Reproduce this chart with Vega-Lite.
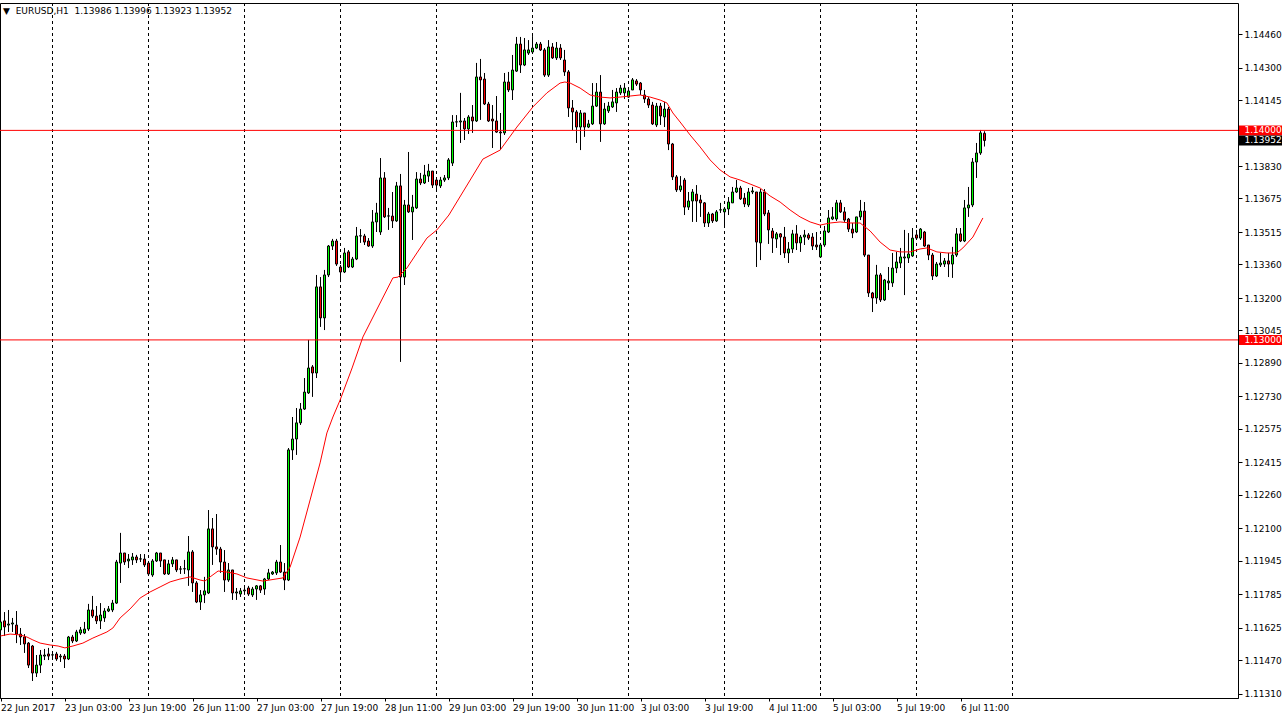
{
"$schema": "https://vega.github.io/schema/vega-lite/v6.json",
"width": 1238, "height": 695,
"autosize": "none",
"padding": {"left": 0, "top": 3, "right": 46, "bottom": 22},
"background": "white",
"title": {"text": "▼\u00a0\u00a0EURUSD,H1\u00a0\u00a01.13986 1.13996 1.13923 1.13952", "anchor": "start", "orient": "top", "frame": "group", "offset": -13, "dx": 3, "fontSize": 9, "font": "DejaVu Sans", "fontWeight": "normal", "color": "#000"},
"config": {
  "view": {"stroke": "#000", "strokeWidth": 1},
  "axis": {"labelFont": "DejaVu Sans", "labelFontSize": 9, "labelColor": "#000", "tickColor": "#000", "domainColor": "#000", "grid": false, "labelOverlap": false, "labelBound": false},
  "axisY": {"labelOverlap": false},
  "axisQuantitative": {"labelOverlap": false},
  "scale": {"continuousPadding": 0}
},
"datasets": {
"days": [{"k":13},{"k":37},{"k":61},{"k":85},{"k":109},{"k":133},{"k":157},{"k":181},{"k":205},{"k":229},{"k":253}],
"hlines": [{"price":1.14},{"price":1.13}],
"tags": [{"price":1.14,"label":"1.14000","bg":"#ff0000"},{"price":1.13,"label":"1.13000","bg":"#ff0000"},{"price":1.13952,"label":"1.13952","bg":"#000000"}],
"ma": [
{"k":0,"ma":1.11587},{"k":2.4,"ma":1.11596},{"k":4.9,"ma":1.11592},{"k":6.6,"ma":1.11582},{"k":8.1,"ma":1.11568},{"k":9.9,"ma":1.11553},{"k":12.4,"ma":1.11544},{"k":14.4,"ma":1.11539},{"k":16.1,"ma":1.1153},{"k":18.1,"ma":1.11539},{"k":20.6,"ma":1.11553},{"k":23.1,"ma":1.11577},{"k":24.9,"ma":1.11592},{"k":26.6,"ma":1.11606},{"k":28.1,"ma":1.11625},{"k":29.9,"ma":1.11673},{"k":32.4,"ma":1.11716},{"k":34.9,"ma":1.11768},{"k":37.4,"ma":1.11797},{"k":39.9,"ma":1.11821},{"k":42.4,"ma":1.11845},{"k":44.9,"ma":1.11859},{"k":47.4,"ma":1.11869},{"k":49.9,"ma":1.11854},{"k":51.1,"ma":1.11849},{"k":52.4,"ma":1.11869},{"k":54.4,"ma":1.11897},{"k":56.6,"ma":1.11892},{"k":59.1,"ma":1.11883},{"k":61.6,"ma":1.11864},{"k":65.6,"ma":1.11849},{"k":70.6,"ma":1.11864},{"k":72.4,"ma":1.11916},{"k":74.9,"ma":1.12059},{"k":77.4,"ma":1.12236},{"k":79.9,"ma":1.12413},{"k":81.6,"ma":1.12556},{"k":83.1,"ma":1.12632},{"k":84.9,"ma":1.12713},{"k":87.9,"ma":1.12866},{"k":90.6,"ma":1.13014},{"k":94.9,"ma":1.13176},{"k":98.1,"ma":1.13296},{"k":99.4,"ma":1.133},{"k":101.6,"ma":1.13343},{"k":104.1,"ma":1.13415},{"k":106.6,"ma":1.13486},{"k":109.1,"ma":1.13525},{"k":112.1,"ma":1.13596},{"k":120.6,"ma":1.13863},{"k":124.9,"ma":1.13906},{"k":129.1,"ma":1.14016},{"k":133.1,"ma":1.14112},{"k":136.6,"ma":1.14179},{"k":139.9,"ma":1.14226},{"k":141.1,"ma":1.14231},{"k":142.4,"ma":1.14226},{"k":144.9,"ma":1.14202},{"k":147.4,"ma":1.14169},{"k":149.9,"ma":1.14159},{"k":152.4,"ma":1.14155},{"k":154.9,"ma":1.14159},{"k":157.4,"ma":1.14164},{"k":159.9,"ma":1.14169},{"k":162.4,"ma":1.14159},{"k":164.9,"ma":1.14145},{"k":166.6,"ma":1.14131},{"k":168.1,"ma":1.14083},{"k":169.9,"ma":1.1404},{"k":172.4,"ma":1.13978},{"k":174.9,"ma":1.13921},{"k":177.4,"ma":1.13859},{"k":179.9,"ma":1.13811},{"k":182.4,"ma":1.13778},{"k":184.9,"ma":1.13763},{"k":187.4,"ma":1.13744},{"k":189.9,"ma":1.13725},{"k":192.4,"ma":1.13687},{"k":194.9,"ma":1.13658},{"k":197.4,"ma":1.1362},{"k":199.9,"ma":1.13587},{"k":202.4,"ma":1.13563},{"k":204.9,"ma":1.13548},{"k":207.4,"ma":1.13558},{"k":209.9,"ma":1.13563},{"k":212.4,"ma":1.13558},{"k":214.9,"ma":1.13558},{"k":217.4,"ma":1.1352},{"k":219.9,"ma":1.13467},{"k":222.4,"ma":1.13429},{"k":224.9,"ma":1.1342},{"k":227.4,"ma":1.1342},{"k":229.9,"ma":1.13434},{"k":231.6,"ma":1.13439},{"k":234.1,"ma":1.1342},{"k":236.6,"ma":1.13415},{"k":239.1,"ma":1.13415},{"k":240.6,"ma":1.13439},{"k":243.1,"ma":1.13491},{"k":245.6,"ma":1.13582}
],
"candles": [
{"k":0,"o":1.11616,"h":1.11725,"l":1.11587,"c":1.11654},
{"k":1,"o":1.11659,"h":1.11701,"l":1.11587,"c":1.1163},
{"k":2,"o":1.11639,"h":1.11711,"l":1.11606,"c":1.11644},
{"k":3,"o":1.11644,"h":1.11673,"l":1.11606,"c":1.11649},
{"k":4,"o":1.11639,"h":1.11706,"l":1.11553,"c":1.11596},
{"k":5,"o":1.11596,"h":1.11625,"l":1.11544,"c":1.11582},
{"k":6,"o":1.11582,"h":1.11596,"l":1.11506,"c":1.11549},
{"k":7,"o":1.11553,"h":1.11558,"l":1.11434,"c":1.11448},
{"k":8,"o":1.11539,"h":1.11544,"l":1.11372,"c":1.1141},
{"k":9,"o":1.1141,"h":1.11496,"l":1.11391,"c":1.11448},
{"k":10,"o":1.11448,"h":1.1152,"l":1.1141,"c":1.11496},
{"k":11,"o":1.11491,"h":1.11525,"l":1.11472,"c":1.11496},
{"k":12,"o":1.11501,"h":1.1153,"l":1.11472,"c":1.11491},
{"k":13,"o":1.11496,"h":1.11515,"l":1.11482,"c":1.11497},
{"k":14,"o":1.11501,"h":1.11511,"l":1.11468,"c":1.11477},
{"k":15,"o":1.11487,"h":1.11501,"l":1.11463,"c":1.11491},
{"k":16,"o":1.11491,"h":1.11501,"l":1.11434,"c":1.11477},
{"k":17,"o":1.11477,"h":1.11587,"l":1.11472,"c":1.11582},
{"k":18,"o":1.11582,"h":1.11592,"l":1.11553,"c":1.11563},
{"k":19,"o":1.11563,"h":1.11616,"l":1.11558,"c":1.11606},
{"k":20,"o":1.11601,"h":1.1163,"l":1.11592,"c":1.11616},
{"k":21,"o":1.11601,"h":1.11654,"l":1.11596,"c":1.1162},
{"k":22,"o":1.1162,"h":1.1174,"l":1.11611,"c":1.11711},
{"k":23,"o":1.11711,"h":1.11778,"l":1.11673,"c":1.11682},
{"k":24,"o":1.11682,"h":1.1173,"l":1.11644,"c":1.11659},
{"k":25,"o":1.11659,"h":1.11744,"l":1.1162,"c":1.11687},
{"k":26,"o":1.11673,"h":1.1172,"l":1.11654,"c":1.11706},
{"k":27,"o":1.11706,"h":1.1173,"l":1.11701,"c":1.11716},
{"k":28,"o":1.11711,"h":1.11759,"l":1.11701,"c":1.11744},
{"k":29,"o":1.11744,"h":1.1195,"l":1.1174,"c":1.1194},
{"k":30,"o":1.11935,"h":1.12079,"l":1.1184,"c":1.11983},
{"k":31,"o":1.11983,"h":1.11983,"l":1.11926,"c":1.1194},
{"k":32,"o":1.11945,"h":1.11978,"l":1.11911,"c":1.11954},
{"k":33,"o":1.1195,"h":1.11983,"l":1.11926,"c":1.11964},
{"k":34,"o":1.11964,"h":1.11974,"l":1.11935,"c":1.1195},
{"k":35,"o":1.11954,"h":1.11978,"l":1.1194,"c":1.11955},
{"k":36,"o":1.11954,"h":1.11978,"l":1.11916,"c":1.11926},
{"k":37,"o":1.11935,"h":1.11945,"l":1.11873,"c":1.11883},
{"k":38,"o":1.11878,"h":1.11954,"l":1.11869,"c":1.11945},
{"k":39,"o":1.11945,"h":1.11988,"l":1.1194,"c":1.11983},
{"k":40,"o":1.11983,"h":1.11983,"l":1.11916,"c":1.11945},
{"k":41,"o":1.1195,"h":1.1195,"l":1.11878,"c":1.11883},
{"k":42,"o":1.11883,"h":1.1195,"l":1.11878,"c":1.11931},
{"k":43,"o":1.11931,"h":1.11964,"l":1.11916,"c":1.1195},
{"k":44,"o":1.1195,"h":1.1195,"l":1.11892,"c":1.11902},
{"k":45,"o":1.11907,"h":1.11921,"l":1.11883,"c":1.11906},
{"k":46,"o":1.11907,"h":1.1195,"l":1.11883,"c":1.11908},
{"k":47,"o":1.11902,"h":1.12064,"l":1.11826,"c":1.11988},
{"k":48,"o":1.11988,"h":1.11997,"l":1.11797,"c":1.1184},
{"k":49,"o":1.1184,"h":1.11849,"l":1.11744,"c":1.11749},
{"k":50,"o":1.11749,"h":1.11806,"l":1.11711,"c":1.11783},
{"k":51,"o":1.11783,"h":1.11869,"l":1.11744,"c":1.11802},
{"k":52,"o":1.11792,"h":1.12188,"l":1.11787,"c":1.12098},
{"k":53,"o":1.12098,"h":1.1215,"l":1.11926,"c":1.12012},
{"k":54,"o":1.12012,"h":1.12169,"l":1.11974,"c":1.12002},
{"k":55,"o":1.12002,"h":1.12012,"l":1.11888,"c":1.1194},
{"k":56,"o":1.1194,"h":1.11997,"l":1.11797,"c":1.11854},
{"k":57,"o":1.11854,"h":1.11935,"l":1.11845,"c":1.11902},
{"k":58,"o":1.11902,"h":1.11902,"l":1.11759,"c":1.11792},
{"k":59,"o":1.11792,"h":1.11816,"l":1.11759,"c":1.11797},
{"k":60,"o":1.11787,"h":1.11816,"l":1.11773,"c":1.11802},
{"k":61,"o":1.11802,"h":1.1183,"l":1.11783,"c":1.11806},
{"k":62,"o":1.11816,"h":1.11826,"l":1.11778,"c":1.11787},
{"k":63,"o":1.11783,"h":1.11821,"l":1.11773,"c":1.11811},
{"k":64,"o":1.11811,"h":1.1183,"l":1.11759,"c":1.11826},
{"k":65,"o":1.11826,"h":1.1183,"l":1.11792,"c":1.11806},
{"k":66,"o":1.11811,"h":1.11864,"l":1.11783,"c":1.11859},
{"k":67,"o":1.11859,"h":1.11907,"l":1.11854,"c":1.11888},
{"k":68,"o":1.11883,"h":1.11897,"l":1.11878,"c":1.11892},
{"k":69,"o":1.11888,"h":1.1195,"l":1.11878,"c":1.1194},
{"k":70,"o":1.1194,"h":1.12021,"l":1.11888,"c":1.11892},
{"k":71,"o":1.11892,"h":1.11935,"l":1.11806,"c":1.11854},
{"k":72,"o":1.11854,"h":1.12484,"l":1.11849,"c":1.12475},
{"k":73,"o":1.12475,"h":1.12632,"l":1.12427,"c":1.12527},
{"k":74,"o":1.12527,"h":1.12675,"l":1.12451,"c":1.12604},
{"k":75,"o":1.12604,"h":1.12699,"l":1.12594,"c":1.1267},
{"k":76,"o":1.1267,"h":1.12818,"l":1.12666,"c":1.12751},
{"k":77,"o":1.12747,"h":1.13,"l":1.12742,"c":1.12866},
{"k":78,"o":1.12871,"h":1.1288,"l":1.12728,"c":1.12842},
{"k":79,"o":1.12842,"h":1.1331,"l":1.12818,"c":1.13253},
{"k":80,"o":1.13253,"h":1.133,"l":1.13062,"c":1.13105},
{"k":81,"o":1.13105,"h":1.13334,"l":1.13047,"c":1.1331},
{"k":82,"o":1.1331,"h":1.13453,"l":1.133,"c":1.13448},
{"k":83,"o":1.13448,"h":1.13482,"l":1.13429,"c":1.13472},
{"k":84,"o":1.13472,"h":1.13482,"l":1.13353,"c":1.13362},
{"k":85,"o":1.13348,"h":1.13358,"l":1.13276,"c":1.13324},
{"k":86,"o":1.13324,"h":1.13439,"l":1.13319,"c":1.13415},
{"k":87,"o":1.1342,"h":1.13429,"l":1.13343,"c":1.13348},
{"k":88,"o":1.13348,"h":1.13396,"l":1.13343,"c":1.13386},
{"k":89,"o":1.13386,"h":1.13539,"l":1.13381,"c":1.13496},
{"k":90,"o":1.13496,"h":1.13529,"l":1.13463,"c":1.13497},
{"k":91,"o":1.13496,"h":1.13506,"l":1.13453,"c":1.13467},
{"k":92,"o":1.13472,"h":1.13486,"l":1.13444,"c":1.13448},
{"k":93,"o":1.13448,"h":1.1362,"l":1.13439,"c":1.13563},
{"k":94,"o":1.13563,"h":1.13654,"l":1.13515,"c":1.13606},
{"k":95,"o":1.13515,"h":1.13868,"l":1.13501,"c":1.13773},
{"k":96,"o":1.13773,"h":1.13801,"l":1.13582,"c":1.13587},
{"k":97,"o":1.13591,"h":1.1363,"l":1.13525,"c":1.13592},
{"k":98,"o":1.13591,"h":1.13706,"l":1.13534,"c":1.13568},
{"k":99,"o":1.13568,"h":1.13754,"l":1.13563,"c":1.13735},
{"k":100,"o":1.13735,"h":1.13792,"l":1.12895,"c":1.133},
{"k":101,"o":1.133,"h":1.13668,"l":1.13262,"c":1.13644},
{"k":102,"o":1.13644,"h":1.13897,"l":1.13606,"c":1.13611},
{"k":103,"o":1.13611,"h":1.13692,"l":1.13477,"c":1.13634},
{"k":104,"o":1.1363,"h":1.13801,"l":1.13625,"c":1.13768},
{"k":105,"o":1.13768,"h":1.13797,"l":1.13739,"c":1.13749},
{"k":106,"o":1.13749,"h":1.13835,"l":1.13744,"c":1.13787},
{"k":107,"o":1.13782,"h":1.1384,"l":1.13754,"c":1.13806},
{"k":108,"o":1.13806,"h":1.13806,"l":1.13725,"c":1.13739},
{"k":109,"o":1.13763,"h":1.13773,"l":1.13706,"c":1.13739},
{"k":110,"o":1.13735,"h":1.13778,"l":1.13725,"c":1.13763},
{"k":111,"o":1.13763,"h":1.13787,"l":1.13754,"c":1.13773},
{"k":112,"o":1.13773,"h":1.13868,"l":1.13763,"c":1.13859},
{"k":113,"o":1.13844,"h":1.14073,"l":1.1383,"c":1.1404},
{"k":114,"o":1.1404,"h":1.14073,"l":1.14016,"c":1.14041},
{"k":115,"o":1.1404,"h":1.14179,"l":1.1394,"c":1.14045},
{"k":116,"o":1.14045,"h":1.14059,"l":1.13954,"c":1.14007},
{"k":117,"o":1.14007,"h":1.14073,"l":1.13983,"c":1.14064},
{"k":118,"o":1.14064,"h":1.14121,"l":1.13988,"c":1.14045},
{"k":119,"o":1.14045,"h":1.14322,"l":1.1404,"c":1.14255},
{"k":120,"o":1.14255,"h":1.14341,"l":1.1405,"c":1.14241},
{"k":121,"o":1.14245,"h":1.14274,"l":1.14121,"c":1.14126},
{"k":122,"o":1.14126,"h":1.14136,"l":1.1404,"c":1.14045},
{"k":123,"o":1.14054,"h":1.14121,"l":1.13916,"c":1.14045},
{"k":124,"o":1.14045,"h":1.14164,"l":1.13988,"c":1.13992},
{"k":125,"o":1.13992,"h":1.14083,"l":1.13906,"c":1.13988},
{"k":126,"o":1.13988,"h":1.14274,"l":1.13978,"c":1.14231},
{"k":127,"o":1.14231,"h":1.14279,"l":1.14183,"c":1.14193},
{"k":128,"o":1.14193,"h":1.1436,"l":1.14145,"c":1.14288},
{"k":129,"o":1.14283,"h":1.14446,"l":1.14279,"c":1.14412},
{"k":130,"o":1.14412,"h":1.14446,"l":1.14274,"c":1.14312},
{"k":131,"o":1.14312,"h":1.14441,"l":1.14307,"c":1.14384},
{"k":132,"o":1.14369,"h":1.14431,"l":1.1436,"c":1.14384},
{"k":133,"o":1.14374,"h":1.1445,"l":1.14369,"c":1.14393},
{"k":134,"o":1.14393,"h":1.14422,"l":1.14388,"c":1.14412},
{"k":135,"o":1.14412,"h":1.14422,"l":1.14379,"c":1.14384},
{"k":136,"o":1.14384,"h":1.14393,"l":1.14255,"c":1.14264},
{"k":137,"o":1.14264,"h":1.14431,"l":1.14255,"c":1.14398},
{"k":138,"o":1.14398,"h":1.14417,"l":1.14341,"c":1.14346},
{"k":139,"o":1.14346,"h":1.14422,"l":1.14336,"c":1.14393},
{"k":140,"o":1.14393,"h":1.14412,"l":1.14336,"c":1.14346},
{"k":141,"o":1.14336,"h":1.14384,"l":1.1426,"c":1.14279},
{"k":142,"o":1.14279,"h":1.14288,"l":1.14064,"c":1.14107},
{"k":143,"o":1.14107,"h":1.14145,"l":1.14002,"c":1.14088},
{"k":144,"o":1.14088,"h":1.14097,"l":1.1394,"c":1.14016},
{"k":145,"o":1.14016,"h":1.14097,"l":1.13906,"c":1.14083},
{"k":146,"o":1.14083,"h":1.14083,"l":1.13969,"c":1.14016},
{"k":147,"o":1.14016,"h":1.1405,"l":1.14011,"c":1.14031},
{"k":148,"o":1.14031,"h":1.14226,"l":1.14026,"c":1.14116},
{"k":149,"o":1.14116,"h":1.14226,"l":1.14112,"c":1.14183},
{"k":150,"o":1.14183,"h":1.14264,"l":1.13945,"c":1.14031},
{"k":151,"o":1.14031,"h":1.14131,"l":1.14026,"c":1.14102},
{"k":152,"o":1.14093,"h":1.14136,"l":1.14083,"c":1.14116},
{"k":153,"o":1.14112,"h":1.14193,"l":1.14107,"c":1.14136},
{"k":154,"o":1.14131,"h":1.14202,"l":1.14088,"c":1.14183},
{"k":155,"o":1.14179,"h":1.14217,"l":1.14169,"c":1.14202},
{"k":156,"o":1.14179,"h":1.14226,"l":1.1415,"c":1.14202},
{"k":157,"o":1.14159,"h":1.14202,"l":1.14155,"c":1.14188},
{"k":158,"o":1.14193,"h":1.1425,"l":1.14193,"c":1.14241},
{"k":159,"o":1.14236,"h":1.14245,"l":1.14212,"c":1.14221},
{"k":160,"o":1.14226,"h":1.14231,"l":1.14169,"c":1.14193},
{"k":161,"o":1.14169,"h":1.14193,"l":1.14131,"c":1.1415},
{"k":162,"o":1.1415,"h":1.14159,"l":1.14107,"c":1.14121},
{"k":163,"o":1.14121,"h":1.14136,"l":1.14026,"c":1.14031},
{"k":164,"o":1.14026,"h":1.14131,"l":1.14016,"c":1.14116},
{"k":165,"o":1.14116,"h":1.14131,"l":1.14026,"c":1.14069},
{"k":166,"o":1.14064,"h":1.14136,"l":1.14016,"c":1.14102},
{"k":167,"o":1.14102,"h":1.14112,"l":1.13906,"c":1.13935},
{"k":168,"o":1.13935,"h":1.1394,"l":1.13763,"c":1.13778},
{"k":169,"o":1.13778,"h":1.13787,"l":1.13706,"c":1.13716},
{"k":170,"o":1.13716,"h":1.13782,"l":1.13706,"c":1.13735},
{"k":171,"o":1.13763,"h":1.13773,"l":1.13596,"c":1.13634},
{"k":172,"o":1.13634,"h":1.13706,"l":1.1362,"c":1.13663},
{"k":173,"o":1.13663,"h":1.1372,"l":1.13563,"c":1.13706},
{"k":174,"o":1.13696,"h":1.13739,"l":1.13563,"c":1.13663},
{"k":175,"o":1.13668,"h":1.13692,"l":1.13587,"c":1.13654},
{"k":176,"o":1.13654,"h":1.13658,"l":1.13539,"c":1.13558},
{"k":177,"o":1.13558,"h":1.13611,"l":1.13539,"c":1.13601},
{"k":178,"o":1.13601,"h":1.13606,"l":1.13558,"c":1.13568},
{"k":179,"o":1.13568,"h":1.1362,"l":1.13563,"c":1.13611},
{"k":180,"o":1.1362,"h":1.13654,"l":1.13606,"c":1.13621},
{"k":181,"o":1.13611,"h":1.13634,"l":1.13534,"c":1.13625},
{"k":182,"o":1.13625,"h":1.13682,"l":1.13596,"c":1.13658},
{"k":183,"o":1.13654,"h":1.1373,"l":1.13654,"c":1.13706},
{"k":184,"o":1.13706,"h":1.13763,"l":1.13701,"c":1.13725},
{"k":185,"o":1.13725,"h":1.13735,"l":1.13668,"c":1.13673},
{"k":186,"o":1.13677,"h":1.13701,"l":1.13634,"c":1.13649},
{"k":187,"o":1.13644,"h":1.13725,"l":1.13634,"c":1.13706},
{"k":188,"o":1.13706,"h":1.1373,"l":1.13696,"c":1.13711},
{"k":189,"o":1.13706,"h":1.13706,"l":1.13348,"c":1.13467},
{"k":190,"o":1.13463,"h":1.1372,"l":1.13381,"c":1.13706},
{"k":191,"o":1.13706,"h":1.1372,"l":1.13591,"c":1.13601},
{"k":192,"o":1.13606,"h":1.1362,"l":1.13458,"c":1.13525},
{"k":193,"o":1.1352,"h":1.13534,"l":1.13415,"c":1.13486},
{"k":194,"o":1.13482,"h":1.13515,"l":1.13439,"c":1.13506},
{"k":195,"o":1.13506,"h":1.1351,"l":1.13405,"c":1.13491},
{"k":196,"o":1.13491,"h":1.13539,"l":1.13391,"c":1.13415},
{"k":197,"o":1.13415,"h":1.13467,"l":1.13367,"c":1.13434},
{"k":198,"o":1.13434,"h":1.13525,"l":1.13415,"c":1.13506},
{"k":199,"o":1.13506,"h":1.13548,"l":1.13429,"c":1.13463},
{"k":200,"o":1.13463,"h":1.13501,"l":1.1342,"c":1.13491},
{"k":201,"o":1.13491,"h":1.13525,"l":1.13453,"c":1.13501},
{"k":202,"o":1.13501,"h":1.1351,"l":1.13477,"c":1.13486},
{"k":203,"o":1.13491,"h":1.1351,"l":1.13429,"c":1.13448},
{"k":204,"o":1.13453,"h":1.13515,"l":1.13429,"c":1.13444},
{"k":205,"o":1.13396,"h":1.13463,"l":1.13391,"c":1.13453},
{"k":206,"o":1.13453,"h":1.13544,"l":1.13444,"c":1.1352},
{"k":207,"o":1.13515,"h":1.1362,"l":1.1351,"c":1.13582},
{"k":208,"o":1.13577,"h":1.13634,"l":1.13572,"c":1.13587},
{"k":209,"o":1.13577,"h":1.13668,"l":1.13568,"c":1.13654},
{"k":210,"o":1.13654,"h":1.13668,"l":1.13606,"c":1.13611},
{"k":211,"o":1.13611,"h":1.13634,"l":1.13563,"c":1.13572},
{"k":212,"o":1.13577,"h":1.13582,"l":1.13515,"c":1.13529},
{"k":213,"o":1.13529,"h":1.13558,"l":1.13486,"c":1.1351},
{"k":214,"o":1.13515,"h":1.13587,"l":1.1351,"c":1.13587},
{"k":215,"o":1.13587,"h":1.13668,"l":1.13572,"c":1.13615},
{"k":216,"o":1.13615,"h":1.13658,"l":1.13396,"c":1.13405},
{"k":217,"o":1.13405,"h":1.13405,"l":1.13205,"c":1.13224},
{"k":218,"o":1.13224,"h":1.13229,"l":1.13133,"c":1.132},
{"k":219,"o":1.132,"h":1.13358,"l":1.13172,"c":1.1331},
{"k":220,"o":1.1331,"h":1.13319,"l":1.13181,"c":1.13191},
{"k":221,"o":1.13191,"h":1.13291,"l":1.13186,"c":1.13286},
{"k":222,"o":1.13272,"h":1.13348,"l":1.13238,"c":1.13281},
{"k":223,"o":1.13272,"h":1.13415,"l":1.13253,"c":1.13343},
{"k":224,"o":1.13343,"h":1.1342,"l":1.13319,"c":1.13372},
{"k":225,"o":1.13367,"h":1.13439,"l":1.13343,"c":1.13396},
{"k":226,"o":1.13391,"h":1.13525,"l":1.13214,"c":1.13396},
{"k":227,"o":1.13391,"h":1.1351,"l":1.13367,"c":1.1341},
{"k":228,"o":1.13401,"h":1.13534,"l":1.13396,"c":1.13486},
{"k":229,"o":1.13501,"h":1.13525,"l":1.13477,"c":1.13486},
{"k":230,"o":1.13486,"h":1.13534,"l":1.13477,"c":1.13529},
{"k":231,"o":1.13515,"h":1.1352,"l":1.13444,"c":1.13448},
{"k":232,"o":1.13453,"h":1.13453,"l":1.13381,"c":1.13405},
{"k":233,"o":1.13405,"h":1.13415,"l":1.13286,"c":1.13305},
{"k":234,"o":1.13305,"h":1.13372,"l":1.133,"c":1.13362},
{"k":235,"o":1.13358,"h":1.13415,"l":1.13348,"c":1.13367},
{"k":236,"o":1.13362,"h":1.13391,"l":1.13348,"c":1.13377},
{"k":237,"o":1.13377,"h":1.13415,"l":1.133,"c":1.13362},
{"k":238,"o":1.13362,"h":1.13444,"l":1.13296,"c":1.13405},
{"k":239,"o":1.13405,"h":1.13534,"l":1.13396,"c":1.13506},
{"k":240,"o":1.13506,"h":1.13534,"l":1.13467,"c":1.13472},
{"k":241,"o":1.13472,"h":1.13668,"l":1.13467,"c":1.1363},
{"k":242,"o":1.1363,"h":1.1373,"l":1.13587,"c":1.13644},
{"k":243,"o":1.13644,"h":1.13868,"l":1.13634,"c":1.13849},
{"k":244,"o":1.13849,"h":1.1394,"l":1.13773,"c":1.13892},
{"k":245,"o":1.13892,"h":1.14002,"l":1.13883,"c":1.13988},
{"k":246,"o":1.13986,"h":1.13996,"l":1.13923,"c":1.13952}
]
},
"layer": [
{
  "data": {"name": "days"},
  "mark": {"type": "rule", "stroke": "#000", "strokeWidth": 1, "strokeDash": [3, 3]},
  "encoding": {
    "x": {"field": "k", "type": "quantitative", "title": null, "scale": {"domain": [-0.125, 309.375], "nice": false, "zero": false, "padding": 0},
      "axis": {"orient": "bottom", "values": [0,16,32,48,64,80,96,112,128,144,160,176,192,208,224,240], "labelExpr": "['22 Jun 2017','23 Jun 03:00','23 Jun 19:00','26 Jun 11:00','27 Jun 03:00','27 Jun 19:00','28 Jun 11:00','29 Jun 03:00','29 Jun 19:00','30 Jun 11:00','3 Jul 03:00','3 Jul 19:00','4 Jul 11:00','5 Jul 03:00','5 Jul 19:00','6 Jul 11:00'][round(datum.value/16)]", "labelAlign": "left", "labelBaseline": "top", "labelPadding": 2, "tickSize": 3, "labelOverlap": false, "labelFlush": false, "labelBound": false, "grid": false, "domain": true}}
  }
},
{
  "data": {"name": "candles"},
  "mark": {"type": "rule", "stroke": "#000", "strokeWidth": 1},
  "encoding": {
    "x": {"field": "k", "type": "quantitative", "title": null, "scale": {"domain": [-0.125, 309.375], "nice": false, "zero": false, "padding": 0}},
    "y": {"field": "l", "type": "quantitative", "title": null, "scale": {"domain": [1.112909, 1.14608], "nice": false, "zero": false, "padding": 0},
      "axis": {"orient": "right", "values": [1.1131,1.1147,1.11625,1.11785,1.11945,1.121,1.1226,1.12415,1.12575,1.1273,1.1289,1.13045,1.132,1.1336,1.13515,1.13675,1.1383,1.14145,1.143,1.1446], "format": ".5f", "tickSize": 4, "labelPadding": 2, "labelAlign": "left", "labelBaseline": "middle", "domain": false, "grid": false, "labelOverlap": false, "labelBound": false, "tickCount": 40}},
    "y2": {"field": "h"}
  }
},
{
  "data": {"name": "candles"},
  "mark": {"type": "bar", "width": 2, "stroke": "#000", "strokeWidth": 1},
  "encoding": {
    "x": {"field": "k", "type": "quantitative", "title": null, "scale": {"domain": [-0.125, 309.375], "nice": false, "zero": false, "padding": 0}},
    "y": {"field": "o", "type": "quantitative", "title": null, "scale": {"domain": [1.112909, 1.14608], "nice": false, "zero": false, "padding": 0},
      "axis": {"orient": "right", "values": [1.1131,1.1147,1.11625,1.11785,1.11945,1.121,1.1226,1.12415,1.12575,1.1273,1.1289,1.13045,1.132,1.1336,1.13515,1.13675,1.1383,1.14145,1.143,1.1446], "format": ".5f", "tickSize": 4, "labelPadding": 2, "labelAlign": "left", "labelBaseline": "middle", "domain": false, "grid": false, "labelOverlap": false, "labelBound": false, "tickCount": 40}},
    "y2": {"field": "c"},
    "fill": {"condition": {"test": "datum.c >= datum.o", "value": "#00ff00"}, "value": "#ff0000"}
  }
},
{
  "data": {"name": "ma"},
  "mark": {"type": "line", "stroke": "#ff0000", "strokeWidth": 1},
  "encoding": {
    "x": {"field": "k", "type": "quantitative", "title": null, "scale": {"domain": [-0.125, 309.375], "nice": false, "zero": false, "padding": 0}},
    "y": {"field": "ma", "type": "quantitative", "title": null, "scale": {"domain": [1.112909, 1.14608], "nice": false, "zero": false, "padding": 0},
      "axis": {"orient": "right", "values": [1.1131,1.1147,1.11625,1.11785,1.11945,1.121,1.1226,1.12415,1.12575,1.1273,1.1289,1.13045,1.132,1.1336,1.13515,1.13675,1.1383,1.14145,1.143,1.1446], "format": ".5f", "tickSize": 4, "labelPadding": 2, "labelAlign": "left", "labelBaseline": "middle", "domain": false, "grid": false, "labelOverlap": false, "labelBound": false, "tickCount": 40}}
  }
},
{
  "data": {"name": "hlines"},
  "mark": {"type": "rule", "stroke": "#ff0000", "strokeWidth": 1},
  "encoding": {
    "y": {"field": "price", "type": "quantitative", "title": null, "scale": {"domain": [1.112909, 1.14608], "nice": false, "zero": false, "padding": 0},
      "axis": {"orient": "right", "values": [1.1131,1.1147,1.11625,1.11785,1.11945,1.121,1.1226,1.12415,1.12575,1.1273,1.1289,1.13045,1.132,1.1336,1.13515,1.13675,1.1383,1.14145,1.143,1.1446], "format": ".5f", "tickSize": 4, "labelPadding": 2, "labelAlign": "left", "labelBaseline": "middle", "domain": false, "grid": false, "labelOverlap": false, "labelBound": false, "tickCount": 40}}
  }
},
{
  "data": {"name": "tags"},
  "mark": {"type": "tick", "orient": "horizontal", "size": 43, "thickness": 10, "opacity": 1},
  "encoding": {
    "x": {"datum": 315.0, "type": "quantitative", "scale": {"domain": [-0.125, 309.375], "nice": false, "zero": false, "padding": 0}},
    "y": {"field": "price", "type": "quantitative", "title": null, "scale": {"domain": [1.112909, 1.14608], "nice": false, "zero": false, "padding": 0},
      "axis": {"orient": "right", "values": [1.1131,1.1147,1.11625,1.11785,1.11945,1.121,1.1226,1.12415,1.12575,1.1273,1.1289,1.13045,1.132,1.1336,1.13515,1.13675,1.1383,1.14145,1.143,1.1446], "format": ".5f", "tickSize": 4, "labelPadding": 2, "labelAlign": "left", "labelBaseline": "middle", "domain": false, "grid": false, "labelOverlap": false, "labelBound": false, "tickCount": 40}},
    "color": {"field": "bg", "type": "nominal", "scale": null, "legend": null}
  }
},
{
  "data": {"name": "tags"},
  "mark": {"type": "text", "align": "left", "baseline": "middle", "fill": "#ffffff", "fontSize": 9, "font": "DejaVu Sans"},
  "encoding": {
    "x": {"datum": 311.0, "type": "quantitative", "scale": {"domain": [-0.125, 309.375], "nice": false, "zero": false, "padding": 0}},
    "y": {"field": "price", "type": "quantitative", "title": null, "scale": {"domain": [1.112909, 1.14608], "nice": false, "zero": false, "padding": 0},
      "axis": {"orient": "right", "values": [1.1131,1.1147,1.11625,1.11785,1.11945,1.121,1.1226,1.12415,1.12575,1.1273,1.1289,1.13045,1.132,1.1336,1.13515,1.13675,1.1383,1.14145,1.143,1.1446], "format": ".5f", "tickSize": 4, "labelPadding": 2, "labelAlign": "left", "labelBaseline": "middle", "domain": false, "grid": false, "labelOverlap": false, "labelBound": false, "tickCount": 40}},
    "text": {"field": "label"}
  }
}
]
}
